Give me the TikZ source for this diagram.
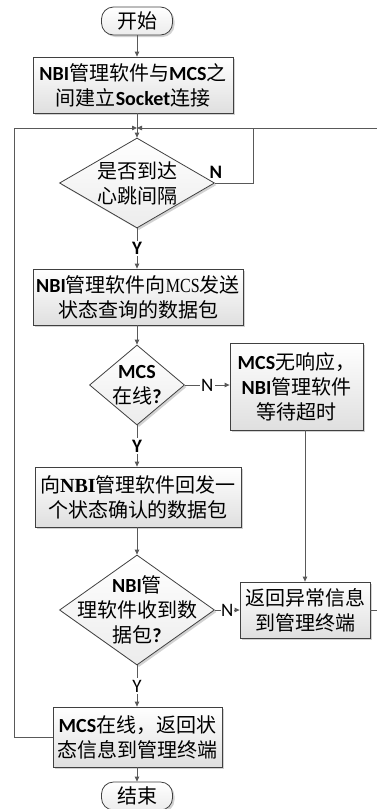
\documentclass[tikz,border=0pt]{standalone}
\usepackage{fontspec}
\setmainfont{Noto Sans CJK SC}
\newfontfamily\lat{Carlito}
\newfontfamily\tms{Liberation Serif}
\newfontfamily\tmsn[FakeStretch=0.8]{Liberation Serif}
\usetikzlibrary{arrows.meta,shapes.geometric,shadows,calc}
\definecolor{edgec}{HTML}{404040}
\definecolor{connc}{HTML}{595959}
\newcommand\Bc[1]{{\lat\bfseries #1}}
\newcommand\Bt[1]{{\tms\bfseries #1}}
\begin{document}
\begin{tikzpicture}[x=1pt,y=-1pt,
  shade/.style={draw=edgec, line width=0.8pt, top color=white, bottom color=gray!25,
    drop shadow={shadow xshift=2pt, shadow yshift=-2pt, fill=gray!70, opacity=0.5}},
  box/.style={shade, inner sep=0pt},
  dia/.style={shade, diamond, bottom color=gray!15, inner sep=0pt},
  term/.style={shade, rounded corners=12pt, bottom color=gray!15, inner sep=0pt},
  txt/.style={align=center, inner sep=0pt, font=\fontsize{20}{25}\selectfont},
  arr/.style={draw=connc, line width=0.8pt, -{Triangle[length=5pt,width=4.5pt]}},
  ln/.style={draw=connc, line width=0.8pt},
  lbl/.style={fill=white, inner sep=1.5pt, font=\lat\fontsize{19}{19}\selectfont},
  blbl/.style={lbl, font=\lat\bfseries\fontsize{19}{19}\selectfont}]
\useasboundingbox (0,0) rectangle (377,809);

% nodes
\node[term, minimum width=71pt, minimum height=28pt] (s) at (137,21) {};
\node[txt] at (s) {开始};

\node[box, minimum width=200pt, minimum height=56pt] (b1) at (133,85) {};
\node[txt] at (b1) {\Bc{NBI}管理软件与\Bc{MCS}之\\间建立\Bc{Socket}连接};

\coordinate (m) at (137,128);

\node[dia, minimum width=155pt, minimum height=90pt] (d1) at (137,183) {};
\node[txt] at (d1) {是否到达\\心跳间隔};

\node[box, minimum width=210pt, minimum height=56pt] (b2) at (138,297) {};
\node[txt] at (b2) {\Bc{NBI}管理软件向{\tmsn MCS}发送\\状态查询的数据包};

\node[dia, minimum width=95pt, minimum height=80pt] (d2) at (137,385) {};
\node[txt] at (d2) {\Bc{MCS}\\在线\Bc{?}};

\node[box, minimum width=133pt, minimum height=87pt] (b3) at (296.5,386.5) {};
\node[txt] at (b3) {\Bc{MCS}无响应，\\\Bc{NBI}管理软件\\等待超时};

\node[box, minimum width=206pt, minimum height=60pt] (b4) at (138,497) {};
\node[txt] at (b4) {向\Bt{NBI}管理软件回发一\\个状态确认的数据包};

\node[dia, minimum width=155pt, minimum height=110pt] (d3) at (137,610) {};
\node[txt] at (d3) {\Bc{NBI}管\\理软件收到数\\据包\Bc{?}};

\node[box, minimum width=130pt, minimum height=56pt] (b5) at (305,610) {};
\node[txt] at (b5) {返回异常信息\\到管理终端};

\node[box, minimum width=169pt, minimum height=60pt] (b6) at (137.5,737) {};
\node[txt] at (b6) {\Bc{MCS}在线，返回状\\态信息到管理终端};

\node[term, minimum width=71pt, minimum height=28pt] (e) at (137,796) {};
\node[txt] at (e) {结束};

\coordinate (rr) at (378,128);
\coordinate (nr) at (253,128);
\coordinate (lt) at (14,128);

% connectors
\draw[arr] (s.south) -- (s.south |- b1.north);
\draw[ln] (b1.south -| m) -- (m);
\draw[arr] (m) -- (d1.north);
\draw[ln] (d1.east) -| (nr);
\draw[arr] (rr) -- (m);
\draw[ln] (b5.east) -| (rr);
\draw[arr] (b6.west) -| (lt) -- (m);
\draw[arr] (d1.south) -- node[blbl]{Y} (d1.south |- b2.north);
\node[blbl, fill=none] at ([shift={(1,-11)}]d1.east) {N};
\draw[arr] (b2.south -| d2.north) -- (d2.north);
\draw[arr] (d2.east) -- node[lbl]{N} (d2.east -| b3.west);
\draw[arr] (d2.south) -- node[blbl]{Y} (d2.south |- b4.north);
\draw[arr] (b4.south -| d3.north) -- (d3.north);
\draw[arr] (d3.east) -- node[lbl, inner sep=0.5pt]{N} (d3.east -| b5.west);
\draw[arr] (b3.south -| b5.north) -- (b5.north);
\draw[arr] (d3.south) -- node[lbl]{Y} (d3.south |- b6.north);
\draw[arr] (b6.south -| e.north) -- (e.north);
\end{tikzpicture}
\end{document}
